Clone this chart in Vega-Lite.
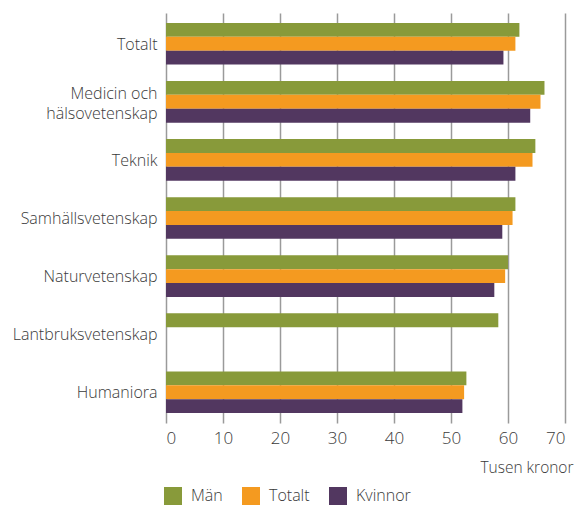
{
  "$schema": "https://vega.github.io/schema/vega-lite/v6.json",
  "autosize": {"type": "none"},
  "padding": {"left": 166, "top": 13, "right": 10, "bottom": 85},
  "width": 399,
  "height": 410,
  "background": "white",
  "data": {
    "values": [
      {"omrade": "Totalt", "kon": "Män", "lon": 62.0},
      {"omrade": "Totalt", "kon": "Totalt", "lon": 61.3},
      {"omrade": "Totalt", "kon": "Kvinnor", "lon": 59.2},
      {"omrade": "Medicin och hälsovetenskap", "kon": "Män", "lon": 66.4},
      {"omrade": "Medicin och hälsovetenskap", "kon": "Totalt", "lon": 65.7},
      {"omrade": "Medicin och hälsovetenskap", "kon": "Kvinnor", "lon": 63.9},
      {"omrade": "Teknik", "kon": "Män", "lon": 64.8},
      {"omrade": "Teknik", "kon": "Totalt", "lon": 64.3},
      {"omrade": "Teknik", "kon": "Kvinnor", "lon": 61.3},
      {"omrade": "Samhällsvetenskap", "kon": "Män", "lon": 61.3},
      {"omrade": "Samhällsvetenskap", "kon": "Totalt", "lon": 60.8},
      {"omrade": "Samhällsvetenskap", "kon": "Kvinnor", "lon": 59.0},
      {"omrade": "Naturvetenskap", "kon": "Män", "lon": 60.0},
      {"omrade": "Naturvetenskap", "kon": "Totalt", "lon": 59.5},
      {"omrade": "Naturvetenskap", "kon": "Kvinnor", "lon": 57.6},
      {"omrade": "Lantbruksvetenskap", "kon": "Män", "lon": 58.3},
      {"omrade": "Humaniora", "kon": "Män", "lon": 52.7},
      {"omrade": "Humaniora", "kon": "Totalt", "lon": 52.3},
      {"omrade": "Humaniora", "kon": "Kvinnor", "lon": 52.0}
    ]
  },
  "config": {
    "font": "Open Sans",
    "view": {"stroke": null}
  },
  "mark": {"type": "bar"},
  "encoding": {
    "y": {
      "field": "omrade",
      "type": "nominal",
      "sort": ["Totalt", "Medicin och hälsovetenskap", "Teknik", "Samhällsvetenskap", "Naturvetenskap", "Lantbruksvetenskap", "Humaniora"],
      "scale": {"paddingInner": 0.283, "paddingOuter": 0.17},
      "axis": {
        "title": null,
        "ticks": false,
        "domain": false,
        "labelPadding": 9,
        "labelFontSize": 16,
        "labelFontWeight": 300,
        "labelColor": "#3a3a3a",
        "labelLineHeight": 20,
        "labelOffset": {"condition": {"test": "datum.value == 'Medicin och hälsovetenskap'", "value": -8}, "value": 1},
        "labelExpr": "datum.label == 'Medicin och hälsovetenskap' ? ['Medicin och', 'hälsovetenskap'] : datum.label"
      }
    },
    "yOffset": {
      "field": "kon",
      "type": "nominal",
      "sort": ["Män", "Totalt", "Kvinnor"],
      "scale": {"paddingInner": 0, "paddingOuter": 0}
    },
    "x": {
      "field": "lon",
      "type": "quantitative",
      "scale": {"domain": [0, 70], "nice": false},
      "axis": {
        "values": [0, 10, 20, 30, 40, 50, 60, 70],
        "title": "Tusen kronor",
        "titleFontSize": 15.5,
        "titleFontWeight": 300,
        "titleColor": "#3a3a3a",
        "titleAnchor": "end",
        "titleAlign": "right",
        "titleX": 407,
        "titleY": 44,
        "titleBaseline": "middle",
        "ticks": false,
        "domain": false,
        "grid": true,
        "gridColor": "#9a9a9a",
        "gridWidth": 1.5,
        "labelPadding": 7,
        "labelFontSize": 17,
        "labelFontWeight": 300,
        "labelColor": "#3a3a3a"
      }
    },
    "color": {
      "field": "kon",
      "type": "nominal",
      "sort": ["Män", "Totalt", "Kvinnor"],
      "scale": {"domain": ["Män", "Totalt", "Kvinnor"], "range": ["#889a3a", "#f49a20", "#523760"]},
      "legend": {
        "title": null,
        "orient": "none",
        "direction": "horizontal",
        "legendX": -2,
        "legendY": 474,
        "symbolType": "square",
        "symbolSize": 324,
        "symbolStrokeWidth": 0,
        "symbolOpacity": 1,
        "labelFontSize": 16,
        "labelFontWeight": 300,
        "labelColor": "#3a3a3a",
        "labelOffset": 9,
        "columnPadding": 19
      }
    }
  }
}
